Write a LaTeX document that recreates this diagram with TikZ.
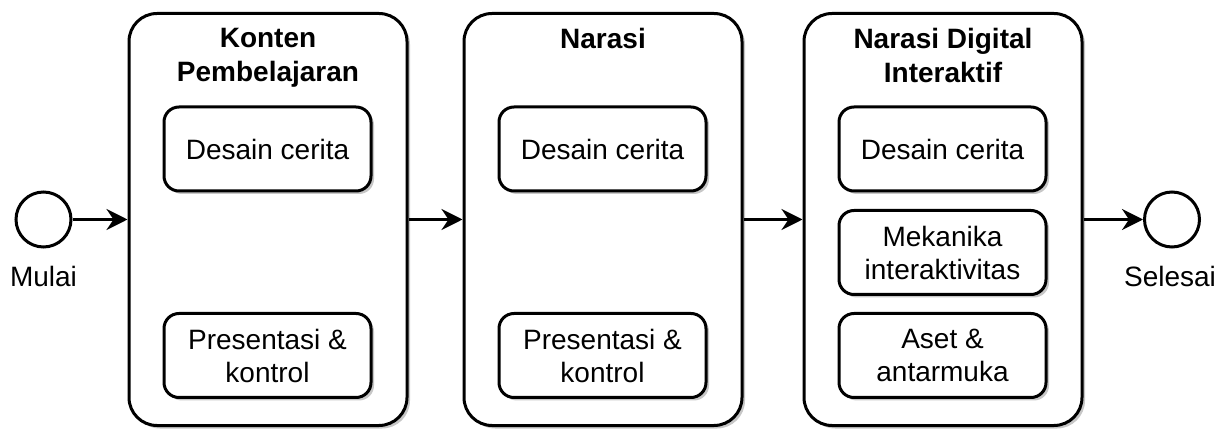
\documentclass[tikz,border=0pt]{standalone}
\usepackage{fontspec}
\setmainfont{Liberation Sans}
\usetikzlibrary{arrows.meta,shadows}

\tikzset{
    stagebox/.style={draw, fill=white, line width=3pt, rounded corners=28pt,
        minimum width=278pt, minimum height=412pt,
        drop shadow={shadow xshift=3pt, shadow yshift=-3pt, fill=black!22, opacity=1}},
    stagetitle/.style={anchor=north, inner sep=0pt, align=center,
        font=\fontsize{28}{34}\selectfont\bfseries},
    taskbox/.style={draw, fill=white, line width=3pt, rounded corners=15pt,
        minimum width=207pt, minimum height=84pt, align=center, inner sep=0pt,
        font=\fontsize{28}{33}\selectfont,
        drop shadow={shadow xshift=3pt, shadow yshift=-3pt, fill=black!22, opacity=1}},
    event/.style={draw, circle, fill=white, line width=3pt, minimum size=55pt, inner sep=0pt},
    eventlabel/.style={inner sep=0pt, font=\fontsize{28}{33}\selectfont},
    flow/.style={line width=3pt, -{Stealth[length=21pt, width=21pt, inset=7pt]}}
}

\begin{document}
\begin{tikzpicture}[x=1pt, y=-1pt]
        \def \midline {219.5};
        \useasboundingbox (0,0) rectangle (1227,430);

        % start and end events
        \node[event] (mulai) at (43.5, \midline) {};
        \node[eventlabel] (mulai-label) at (43.5, 276) {Mulai};
        \node[event] (selesai) at (1172, \midline) {};
        \node[eventlabel] (selesai-label) at (1170, 276) {Selesai};

        % the three stages, each a big rounded box with a bold title on top
        \foreach \name/\x/\title in {konten/268/{Konten\\Pembelajaran},
                                     narasi/603/{Narasi},
                                     ndi/943/{Narasi Digital\\Interaktif}} {
            \node[stagebox] (\name) at (\x, \midline) {};
            \node[stagetitle] (\name-title) at (\x, 28) {\title};
        }

        % the first two stages share the same parts
        \foreach \name/\x in {konten/267.5, narasi/602.5} {
            \node[taskbox] (\name-desain) at (\x, 149) {Desain cerita};
            \node[taskbox] (\name-presentasi) at (\x, 355.5) {Presentasi \&\\kontrol};
        }

        % the last stage has three parts
        \node[taskbox] (ndi-desain) at (942.5, 149) {Desain cerita};
        \node[taskbox] (ndi-mekanika) at (942.5, 252.5) {Mekanika\\interaktivitas};
        \node[taskbox] (ndi-aset) at (942.5, 355.5) {Aset \&\\antarmuka};

        % flow from start to end
        \draw[flow] (mulai) -- (konten);
        \draw[flow] (konten) -- (narasi);
        \draw[flow] (narasi) -- (ndi);
        \draw[flow] (ndi) -- (selesai);
    \end{tikzpicture}
\end{document}
